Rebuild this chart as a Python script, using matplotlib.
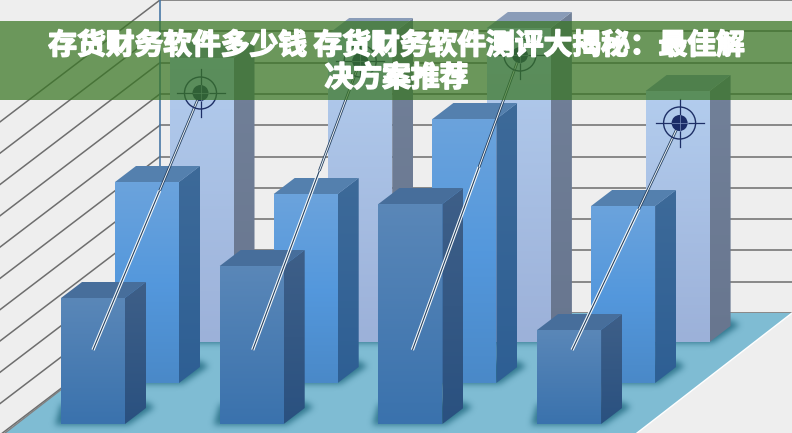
import matplotlib
matplotlib.use('Agg')
import matplotlib.pyplot as plt
import matplotlib.patheffects as pe
from matplotlib.patches import Polygon, Circle, Rectangle
from matplotlib.path import Path
from matplotlib.colors import LinearSegmentedColormap
import numpy as np

plt.rcParams['font.family'] = ['Noto Sans CJK SC', 'DejaVu Sans']

# bar heights, one list per row, left to right
front_values = [126, 158, 220, 94]
middle_values = [201, 189, 264, 177]
back_values = [284, 308, 314, 251]
target_values = [249, 281, 287, 219]
grid_levels = [0, 1, 2, 3, 4, 5, 6, 7, 8, 9, 10]
title_lines = ['存货财务软件多少钱 存货财务软件测评大揭秘：最佳解', '决方案推荐']

W, H = 792, 433
COL_STEP = 158.7
STEM_STEP = 159.7
BAR_W = 64
DX, DY = 21, 16
STEM_Y = 350

fig = plt.figure(figsize=(7.92, 4.33), dpi=100)
ax = fig.add_axes([0, 0, 1, 1])
ax.axis('off')
ax.add_patch(Rectangle((0, 0), W, H, fc='#eeeeee', ec='none', zorder=0))


def gradient(points, stops, zorder):
    # vertical colour ramp clipped to a polygon
    pts = np.array(points)
    poly = Polygon(pts, closed=True, fc='none', ec='none', transform=ax.transData)
    ax.add_patch(poly)
    cmap = LinearSegmentedColormap.from_list('g', stops)
    y0, y1 = pts[:, 1].min(), pts[:, 1].max()
    im = ax.imshow(np.linspace(0, 1, 128).reshape(-1, 1), cmap=cmap, aspect='auto',
                   extent=(pts[:, 0].min(), pts[:, 0].max(), y1, y0), zorder=zorder)
    im.set_clip_path(poly)


def shadow(x0, base, zorder, strength=0.72):
    # soft floor shadow: polygon mask blurred with numpy
    x1 = x0 + BAR_W
    pts = [(x0 - 6, base + 1), (x1 + 3, base + 1), (x1 + 30, base - 17),
           (x1 + 21, base - 22), (x0, base - 20)]
    left, top = int(x0 - 24), int(base - 42)
    w, h = BAR_W + 84, 64
    gx, gy = np.meshgrid(np.arange(w) + left + 0.5, np.arange(h) + top + 0.5)
    mask = Path(pts).contains_points(np.c_[gx.ravel(), gy.ravel()]).reshape(h, w).astype(float)
    kernel = np.exp(-np.arange(-8, 9) ** 2 / (2 * 3.2 ** 2))
    kernel /= kernel.sum()
    mask = np.apply_along_axis(np.convolve, 0, mask, kernel, mode='same')
    mask = np.apply_along_axis(np.convolve, 1, mask, kernel, mode='same')
    rgba = np.zeros((h, w, 4))
    rgba[..., :3] = (0.07, 0.36, 0.45)
    rgba[..., 3] = mask * strength
    ax.imshow(rgba, extent=(left, left + w, top + h, top), aspect='auto',
              interpolation='bilinear', zorder=zorder)


def bar(col, left0, base, value, face, side, top, zorder):
    x0 = left0 + col * COL_STEP
    x1 = x0 + BAR_W
    y = base - value
    shadow(x0, base, zorder)
    gradient([(x0, y), (x1, y), (x1, base), (x0, base)], face, zorder + 0.2)
    gradient([(x1, y), (x1 + DX, y - DY), (x1 + DX, base - DY), (x1, base)], side, zorder + 0.2)
    ax.add_patch(Polygon([(x0, y), (x1, y), (x1 + DX, y - DY), (x0 + DX, y - DY)],
                         fc=top, ec='none', zorder=zorder + 0.3))


# back wall grid and the left wall running down towards the viewer
WALL_BASE = 313
GRID_STEP = 31.3
for lev in grid_levels:
    y = WALL_BASE - lev * GRID_STEP
    ax.plot([160, W], [y, y], color='#808080', lw=1.3, zorder=1)
    ax.plot([0, 160], [y + 160 * DY / DX, y], color='#6e6e6e', lw=1.1, zorder=1)
ax.plot([160, 160], [0, WALL_BASE], color='#4a79a6', lw=1.2, zorder=1.5)

# floor
ax.add_patch(Polygon([(160, WALL_BASE), (W, WALL_BASE), (637, H), (5, H)],
                     fc='#7fbcd3', ec='none', zorder=2))
ax.plot([5, 160], [H, WALL_BASE], color='#808080', lw=1.0, zorder=2.1)
ax.plot([637, W], [H, WALL_BASE], color='#ffffff', lw=1.0, zorder=2.1)

for c, v in enumerate(back_values):
    bar(c, 169.5, 342, v, ['#b3cdee', '#9cb1d9'], ['#728199', '#68768f'], '#8a9cb8', 3)
for c, v in enumerate(middle_values):
    bar(c, 115, 383, v, ['#6ba3dc', '#5498dd', '#4a89c8'], ['#3d6a99', '#2e5f94'], '#5480ae', 4)
for c, v in enumerate(front_values):
    bar(c, 61, 424, v, ['#5a87b8', '#3a72ad'], ['#3e5f88', '#2a5180'], '#476e9b', 5)

# stems from the front bars up to the targets
for c, v in enumerate(target_values):
    sx, sy = 93 + c * STEM_STEP, STEM_Y
    tx, ty = 200.5 + c * STEM_STEP, 342 - v
    mx, my = sx + (tx - sx) * 0.62, sy + (ty - sy) * 0.62
    ax.plot([sx, mx], [sy, my], color='#f4f8fa', lw=2.4, zorder=6, solid_capstyle='butt')
    ax.plot([sx, mx], [sy, my], color='#24405f', lw=0.8, zorder=6.1, solid_capstyle='butt')
    ax.plot([mx, tx], [my, ty], color='#24405f', lw=1.9, zorder=6, solid_capstyle='butt')
    ax.plot([mx, tx], [my, ty], color='#f0f4f8', lw=0.7, zorder=6.1, solid_capstyle='butt')
    ax.add_patch(Circle((tx, ty), 16, fc='none', ec='#1e2f66', lw=1.0, zorder=6.2))
    ax.plot([tx - 24, tx + 24], [ty, ty], color='#1e2f66', lw=0.9, zorder=6.3)
    ax.plot([tx, tx], [ty - 24, ty + 24], color='#1e2f66', lw=0.9, zorder=6.3)
    ax.add_patch(Circle((tx, ty), 8, fc='#1b2c68', ec='none', zorder=6.4))
    ax.plot([tx - 8, tx + 8], [ty, ty], color='#7f94c0', lw=0.5, zorder=6.5)
    ax.plot([tx, tx], [ty - 8, ty + 8], color='#7f94c0', lw=0.5, zorder=6.5)

# title band over everything
ax.add_patch(Rectangle((0, 20.5), W, 79.5, fc='#397623', ec='none', alpha=0.72, zorder=8))
for i, line in enumerate(title_lines):
    ax.text(396.5, 45 + i * 32.5, line, ha='center', va='center', color='white',
            fontsize=20.7, fontweight='bold', zorder=9,
            path_effects=[pe.withStroke(linewidth=1.2, foreground='white')])

ax.set_xlim(0, W)
ax.set_ylim(H, 0)
fig.savefig('out.png', dpi=100)
